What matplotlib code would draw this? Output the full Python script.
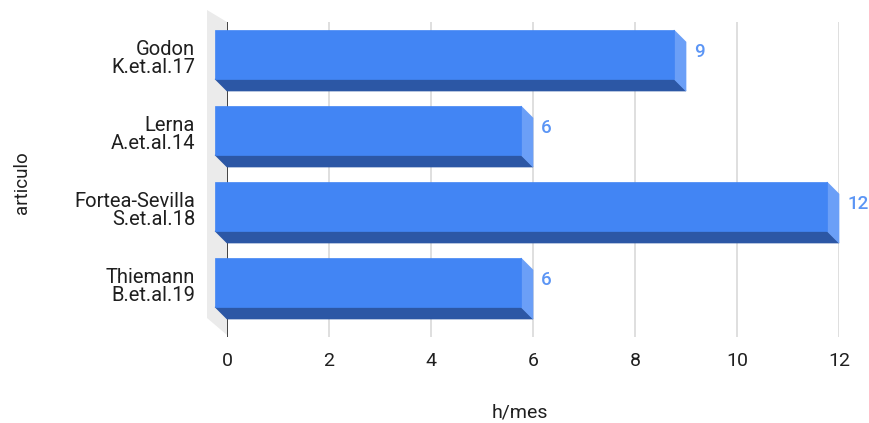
import matplotlib
matplotlib.use("Agg")
import matplotlib.pyplot as plt
from matplotlib.patches import Polygon
import numpy as np

plt.rcParams['font.family'] = ['Roboto', 'DejaVu Sans']

# data
articulos = ["Godon\nK.et.al.17", "Lerna\nA.et.al.14",
             "Fortea-Sevilla\nS.et.al.18", "Thiemann\nB.et.al.19"]
horas_mes = [9, 6, 12, 6]
x_ticks = [0, 2, 4, 6, 8, 10, 12]

FRONT = "#4285f4"
BOTTOM = "#2c57a5"
SIDE = "#6b9ff7"
LABEL_BLUE = "#5b95f5"
WALL = "#ebebeb"
GRID = "#d9d9d9"
TXT = "#1f1f1f"

W, H = 869, 423
fig = plt.figure(figsize=(W / 100, H / 100), dpi=100)
# plot area in pixels: x 227..839, y 22..337 (from top)
ax = fig.add_axes([227 / W, (H - 337) / H, (839 - 227) / W, (337 - 22) / H])

BAND = 76.0          # px between categories
BAR_H = 49.0 / BAND  # bar thickness in category units
ax.set_xlim(0, 12)
ax.set_ylim((337 - 66.5) / BAND, (22 - 66.5) / BAND)

# 3d depth: 12 px left and 12 px up, converted to data units
px_x = 612 / 12.0
dx = 12 / px_x
dy = 12 / BAND

# left wall
y_lo, y_hi = ax.get_ylim()
wall_w = 20 / px_x
ax.add_patch(Polygon([(-wall_w, y_hi - 12 / BAND), (0, y_hi),
                      (0, y_lo - 2 / BAND), (-wall_w, y_lo - 19 / BAND)],
                     closed=True, facecolor=WALL, edgecolor="none",
                     clip_on=False, zorder=0))

# grid
for t in x_ticks[1:]:
    ax.axvline(t, color=GRID, lw=1.2, zorder=1)
ax.axvline(0, color="#333333", lw=1.3, zorder=1)

pos = np.arange(len(articulos))
for i, v in zip(pos, horas_mes):
    top, bot = i - BAR_H / 2, i + BAR_H / 2
    # bottom face
    ax.add_patch(Polygon([(-dx, bot - dy), (v - dx, bot - dy), (v, bot), (0, bot)],
                         closed=True, facecolor=BOTTOM, edgecolor=BOTTOM,
                         lw=0.5, clip_on=False, zorder=3))
    # side face
    ax.add_patch(Polygon([(v - dx, top - dy), (v, top), (v, bot), (v - dx, bot - dy)],
                         closed=True, facecolor=SIDE, edgecolor=SIDE,
                         lw=0.5, clip_on=False, zorder=3))
    # front face
    ax.add_patch(Polygon([(-dx, top - dy), (v - dx, top - dy), (v - dx, bot - dy), (-dx, bot - dy)],
                         closed=True, facecolor=FRONT, edgecolor=FRONT,
                         lw=0.5, clip_on=False, zorder=4))
    ax.text(v + 8 / px_x, top + 10 / BAND, str(v), color=LABEL_BLUE,
            fontsize=13.5, fontweight="medium", ha="left", va="center", zorder=5)

ax.set_xticks(x_ticks)
ax.set_xticklabels([str(t) for t in x_ticks], fontsize=14, color=TXT)
ax.set_yticks(pos - 9.5 / BAND)
ax.set_yticklabels(articulos, fontsize=14.5, color=TXT, linespacing=0.9)
ax.tick_params(axis="x", length=0, pad=11)
ax.tick_params(axis="y", length=0, pad=23)
for s in ax.spines.values():
    s.set_visible(False)

ax.set_xlabel("h/mes", fontsize=14, color=TXT)
ax.xaxis.set_label_coords((520 - 227) / 612, (337 - 412) / 315)
ax.xaxis.label.set_va("center")
ax.set_ylabel("articulo", fontsize=13.5, color=TXT)
ax.yaxis.set_label_coords((22 - 227) / 612, (337 - 183) / 315)
ax.yaxis.label.set_va("center")

fig.savefig("out.png", dpi=100)
